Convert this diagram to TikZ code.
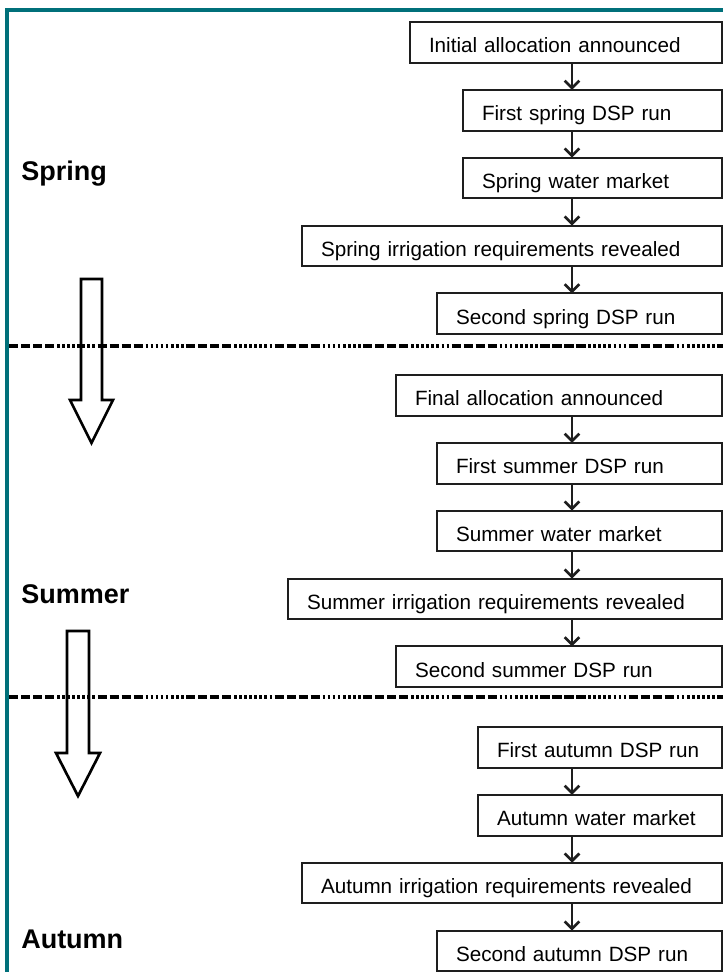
\documentclass[tikz,border=0pt]{standalone}
\usepackage{fontspec}
\setmainfont{Liberation Sans}
\usetikzlibrary{arrows.meta,positioning}
\definecolor{frameteal}{RGB}{0,112,122}
\definecolor{boxline}{RGB}{30,30,30}
\tikzset{
  stage/.style={rectangle, draw=boxline, line width=1.5pt, minimum height=30.5pt, inner xsep=14.25pt, inner ysep=0pt, outer sep=0pt,
    text height=16.8pt, text depth=1.5pt, align=left, font=\fontsize{15.5pt}{18pt}\selectfont, anchor=north east},
  season/.style={font=\fontsize{20.25pt}{24pt}\selectfont\bfseries, anchor=base west, inner sep=0pt},
  arr/.style={-{Straight Barb[length=5.5pt, width=11pt]}, line width=2pt, draw=boxline},
  divider/.style={line width=3pt, dash pattern=on 7pt off 2pt on 7pt off 2pt on 7pt off 2pt on 7pt off 2pt
    on 2pt off 1.8pt on 2pt off 1.8pt on 2pt off 1.8pt on 2pt off 1.8pt on 2pt off 1.8pt on 2pt off 1.8pt on 2pt off 1.8pt on 2pt off 1.8pt},
  blockarr/.style={draw=black, fill=white, line width=2pt, line join=miter},
  frame/.style={draw=frameteal, line width=2.4pt}
}
\begin{document}
\begin{tikzpicture}[x=0.75pt, y=-0.75pt, node distance=20.4pt and 0pt]
\useasboundingbox (0,0) rectangle (723,972);
\draw[frame] (7,10) rectangle (760,1010);

% spring
\node[stage, text width=205.5pt] (sp1) at (722,22) {Initial allocation announced};
\node[stage, text width=165.75pt, below left=of sp1.south east] (sp2) {First spring DSP run};
\node[stage, text width=165.75pt, below left=of sp2.south east] (sp3) {Spring water market};
\node[stage, text width=286.5pt, below left=of sp3.south east] (sp4) {Spring irrigation requirements revealed};
\node[stage, text width=185.25pt, below left=of sp4.south east] (sp5) {Second spring DSP run};

% summer
\node[stage, text width=216pt] (su1) at (722,375) {Final allocation announced};
\node[stage, text width=185.25pt, below left=of su1.south east] (su2) {First summer DSP run};
\node[stage, text width=185.25pt, below left=of su2.south east] (su3) {Summer water market};
\node[stage, text width=297pt, below left=of su3.south east] (su4) {Summer irrigation requirements revealed};
\node[stage, text width=216pt, below left=of su4.south east] (su5) {Second summer DSP run};

% autumn
\node[stage, text width=154.5pt] (au1) at (722,727) {First autumn DSP run};
\node[stage, text width=154.5pt, below left=of au1.south east] (au2) {Autumn water market};
\node[stage, text width=286.5pt, below left=of au2.south east] (au3) {Autumn irrigation requirements revealed};
\node[stage, text width=185.25pt, below left=of au3.south east] (au4) {Second autumn DSP run};

\coordinate (col) at (572,0);
\foreach \a/\b in {sp1/sp2, sp2/sp3, sp3/sp4, sp4/sp5, su1/su2, su2/su3, su3/su4, su4/su5, au1/au2, au2/au3, au3/au4}
  \draw[arr] (\a.south -| col) -- (\b.north -| col);

\node[season] (spring) at (21,180) {Spring};
\node[season] (summer) at (21,603) {Summer};
\node[season] (autumn) at (21,948) {Autumn};

% time arrows
\draw[blockarr] (81,279) -- (102,279) -- (102,400) -- (113,400) -- (91.5,443) -- (70,400) -- (81,400) -- cycle;
\draw[blockarr] (67,631) -- (89,631) -- (89,753) -- (100,753) -- (78,796) -- (56,753) -- (67,753) -- cycle;

\draw[divider] (9,346) -- (723,346);
\draw[divider] (9,697) -- (723,697);
\end{tikzpicture}
\end{document}
